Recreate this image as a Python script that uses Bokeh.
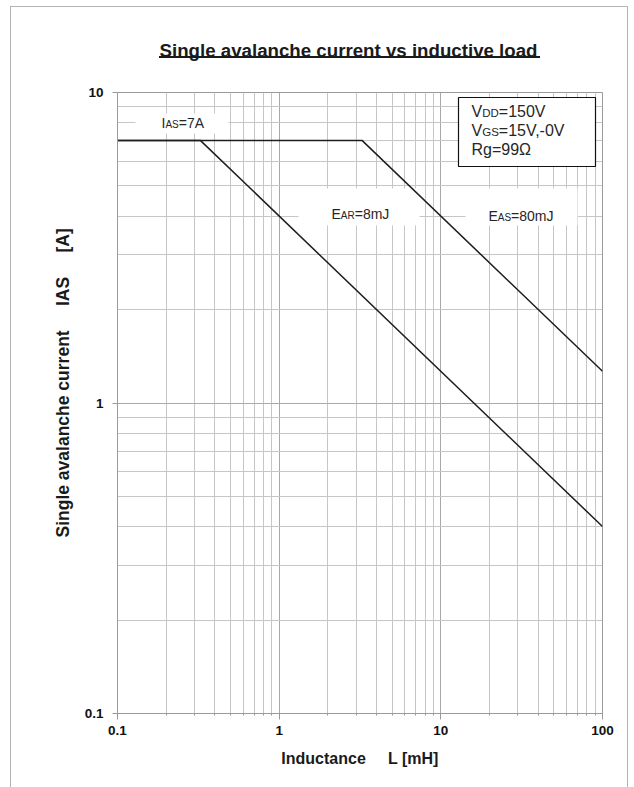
import math

from bokeh.embed import file_html
from bokeh.models import FixedTicker, Label, Title
from bokeh.plotting import figure
from bokeh.resources import INLINE

# Avalanche limit curves: inductance [mH] vs. single avalanche current [A]
ind_ear = [0.1, 0.3265, 100.0]
cur_ear = [7.0, 7.0, 0.4]
ind_eas = [0.1, 3.265, 100.0]
cur_eas = [7.0, 7.0, 1.265]

x_ticks = [0.1, 1, 10, 100]
x_tick_labels = ["0.1", "1", "10", "100"]
y_ticks = [0.1, 1, 10]
y_tick_labels = ["0.1", "1", "10"]

W, H = 634, 787
FL, FR, FT, FB = 117, 602, 92, 713   # plot frame edges in canvas pixels
X_DEC = (math.log10(0.1), math.log10(100))
Y_DEC = (math.log10(0.1), math.log10(10))

FONT = "Liberation Sans"
INK = "#262626"
DARK = "#1a1a1a"
MID = 0.35          # baseline sits this many em below a "middle" anchor
GAP = "\u00a0"


def dx(px):
    """Canvas pixel column -> data x on the log axis."""
    return 10 ** (X_DEC[0] + (X_DEC[1] - X_DEC[0]) * (px - FL) / (FR - FL))


def dy(py):
    """Canvas pixel row -> data y on the log axis."""
    return 10 ** (Y_DEC[1] - (Y_DEC[1] - Y_DEC[0]) * (py - FT) / (FB - FT))


# page frame (left, top, right) and the title underline, painted behind a
# transparent border area
rule = "linear-gradient(#b4b4b4,#b4b4b4)"
ink = f"linear-gradient({DARK},{DARK})"
page_bg = ", ".join([
    f"{ink} 159px 56px / 381px 2px no-repeat",
    f"{rule} 10px 6px / 1px 100% no-repeat",
    f"{rule} 627px 6px / 1px 100% no-repeat",
    f"{rule} 10px 6px / 618px 1px no-repeat",
    "white",
])

p = figure(
    width=W, height=H,
    x_axis_type="log", y_axis_type="log",
    x_range=(0.1, 100), y_range=(0.1, 10),
    output_backend="svg", toolbar_location=None,
    min_border_left=FL, min_border_right=W - FR,
    min_border_top=FT, min_border_bottom=H - FB,
    background_fill_color="white",
)
p.border_fill_alpha = 0
p.styles = {"background": page_bg}
p.outline_line_color = "#9a9a9a"

minor_x = [m * d for d in (0.1, 1, 10) for m in range(2, 10)]
minor_y = [m * d for d in (0.1, 1) for m in range(2, 10)]
p.xaxis.ticker = FixedTicker(ticks=x_ticks, minor_ticks=minor_x)
p.yaxis.ticker = FixedTicker(ticks=y_ticks, minor_ticks=minor_y)
p.xaxis.major_label_overrides = dict(zip(x_ticks, x_tick_labels))
p.yaxis.major_label_overrides = dict(zip(y_ticks, y_tick_labels))

for ax in (p.xaxis, p.yaxis):
    ax.axis_line_color = "#9a9a9a"
    ax.major_tick_line_color = "#9a9a9a"
    ax.minor_tick_line_color = "#9a9a9a"
    ax.major_tick_in = 0
    ax.minor_tick_in = 0
    ax.major_label_text_font = FONT
    ax.major_label_text_font_style = "bold"
    ax.major_label_text_font_size = "13.5px"
    ax.major_label_text_color = "#111111"
p.yaxis.major_tick_out = 5
p.yaxis.minor_tick_out = 0
p.yaxis.major_label_standoff = 9
p.xaxis.major_tick_out = 6
p.xaxis.minor_tick_out = 2
p.xaxis.major_label_standoff = 6

p.xaxis.axis_label = "Inductance" + GAP * 5 + "L [mH]"
p.xaxis.axis_label_text_font = FONT
p.xaxis.axis_label_text_font_style = "bold"
p.xaxis.axis_label_text_font_size = "16px"
p.xaxis.axis_label_text_color = DARK
p.xaxis.axis_label_standoff = 12

p.grid.grid_line_color = "#a8a8a8"
p.grid.minor_grid_line_color = "#c6c6c6"

# chart title and vertical axis title
p.add_layout(Title(
    text="Single avalanche current vs inductive load", align="left",
    offset=159 - FL, standoff=64,
    text_font=FONT, text_font_style="bold", text_font_size="18.7px",
    text_color=DARK,
), "above")
p.add_layout(Title(
    text="Single avalanche current" + GAP * 5 + "IAS" + GAP * 5 + "[A]",
    align="left", offset=FB - 537, standoff=18,
    text_font=FONT, text_font_style="bold", text_font_size="17.5px",
    text_color=DARK,
), "left")

# white patches behind the in-plot annotations
p.quad(left=[dx(135), dx(298), dx(465)], right=[dx(228), dx(419), dx(577)],
       top=[dy(113), dy(188), dy(188)], bottom=[dy(133), dy(225), dy(225)],
       fill_color="white", line_color=None)

# limit curves
p.line(ind_ear, cur_ear, line_color="#1e1e1e", line_width=1.5)
p.line(ind_eas, cur_eas, line_color="#1e1e1e", line_width=1.5)

# conditions box
p.quad(left=[dx(458)], right=[dx(595)], top=[dy(97)], bottom=[dy(166)],
       fill_color="white", line_color="#111111", line_width=1.2)


def put(text, px, base, size):
    """Place text so that its baseline falls on canvas row `base`."""
    p.add_layout(Label(
        x=dx(px), y=dy(base - MID * size), text=text,
        text_font=FONT, text_font_size=f"{size}px",
        text_color=INK, text_align="left", text_baseline="middle",
    ))


# labels with small-cap subscripts
put("I", 161, 127, 14)
put("AS", 164.9, 127, 10)
put("=7A", 178.2, 127, 14)

put("E", 331, 218, 14)
put("AR", 340.3, 218, 10)
put("=8mJ", 354.2, 218, 14)

put("E", 488, 220, 14)
put("AS", 497.3, 220, 10)
put("=80mJ", 510.6, 220, 14)

put("V", 471, 117, 16)
put("DD", 481.7, 117, 11.5)
put("=150V", 498.3, 117, 16)
put("V", 471, 136, 16)
put("GS", 481.7, 136, 11.5)
put("=15V,-0V", 498.3, 136, 16)
put("Rg=99\u03a9", 471, 154.5, 16)

open("out.html", "w").write(file_html(p, INLINE))
